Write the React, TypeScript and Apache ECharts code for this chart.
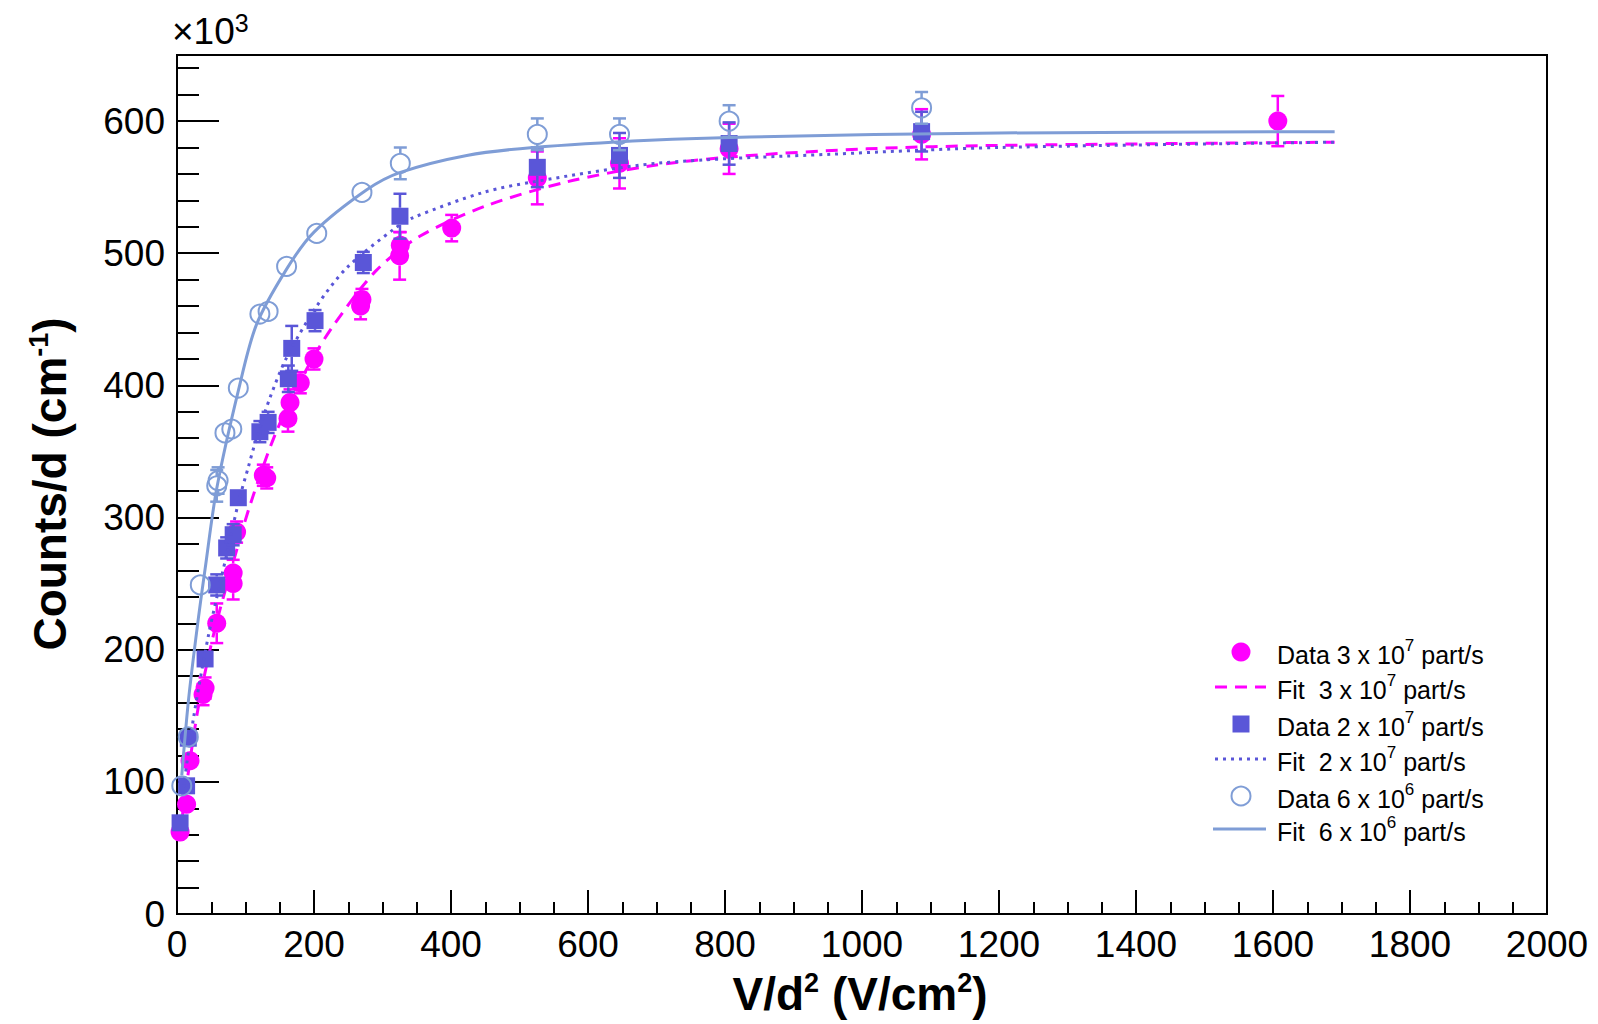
import React, { useEffect, useRef } from "react";
import * as echarts from "echarts";

// ---- Data (x in V/cm^2, y in 10^3 counts/cm, err in 10^3) ----
const data3e7: number[][] = [
  [4.5, 62, 4], [14, 83, 5], [19, 116, 6], [38, 166, 8], [41, 171, 8],
  [58, 220, 15], [82, 250, 12], [82, 258, 10], [87, 289, 8], [126, 332, 8],
  [131, 330, 8], [162, 375, 10], [165, 387, 10], [180, 402, 8], [200, 420, 8],
  [268, 460, 10], [270, 465, 8], [325, 498, 18], [326, 506, 10], [401, 519, 10],
  [526, 557, 20], [646, 568, 19], [806, 579, 19], [1087, 590, 19], [1607, 600, 19],
];
const data2e7: number[][] = [
  [4.5, 69, 4], [14, 97, 5], [16.5, 133, 6], [41, 193, 6], [58, 249, 8],
  [72.5, 277, 8], [82, 287, 8], [89.5, 315, 6], [121, 365, 8], [133, 372, 8],
  [162.5, 405, 10], [167.5, 428, 17], [201.5, 449, 8], [272, 493, 8], [325.5, 528, 17],
  [526, 565, 15], [646, 574, 17], [806, 583, 16], [1087, 592, 15],
];
const data6e8: number[][] = [
  [7, 97, 5], [16.5, 134, 6], [34, 249, 6], [58, 324, 12], [60, 328, 10],
  [70, 364, 5], [80, 367, 5], [89.5, 398, 5], [121, 454, 5], [133, 456, 5],
  [160, 490, 5], [204, 515, 5], [270, 546, 5], [326, 568, 12], [526, 590, 12],
  [646, 590, 12], [806, 600, 12], [1087, 610, 12],
];
const fit3e7: number[][] = [
  [8, 75], [21.5, 125], [34, 165], [55, 215], [82, 266], [107, 310], [145, 365],
  [189, 412], [228, 445], [291, 487], [355, 513], [452, 536], [569, 554], [690, 566],
  [812, 573], [1007, 579], [1200, 581.6], [1690, 584],
];
const fit2e7: number[][] = [
  [8, 90], [24, 148], [46, 211], [72.5, 272], [90, 312], [104, 338], [116, 360],
  [136, 391], [160, 421], [204, 460], [248, 489], [316, 518], [345, 527], [447, 546],
  [520, 554], [700, 568], [958, 575], [1200, 580], [1690, 584],
];
const fit6e8: number[][] = [
  [7, 105], [17, 163], [31, 223], [41, 261], [58, 322], [90, 397], [116, 446],
  [160, 488], [200, 516], [277, 548], [325, 561], [423, 574], [520, 580], [690, 585.5],
  [836, 588], [1200, 591], [1690, 592],
];
const legendLabels: string[][] = [
  ["Data 3 x 10", "7", " part/s"],
  ["Fit  3 x 10", "7", " part/s"],
  ["Data 2 x 10", "7", " part/s"],
  ["Fit  2 x 10", "7", " part/s"],
  ["Data 6 x 10", "6", " part/s"],
  ["Fit  6 x 10", "6", " part/s"],
];

const MAGENTA = "#ff00ff";
const VIOLET = "#5a56d8";
const LIGHTBLUE = "#7f9dd6";
const FONT = "Liberation Sans, Arial, Helvetica, sans-serif";

type Kind = "disc" | "square" | "ring";

function makeRenderer(kind: Kind, color: string) {
  return (_params: any, api: any) => {
    const x = api.value(0);
    const y = api.value(1);
    const e = api.value(2);
    const p = api.coord([x, y]);
    const pt = api.coord([x, y + e]);
    const pb = api.coord([x, y - e]);
    const r = kind === "square" ? 8.5 : 9.5;
    const cap = 6.5;
    const ls = { stroke: color, lineWidth: 2.5 };
    const children: any[] = [];
    if (p[1] - pt[1] > r) {
      children.push({ type: "line", shape: { x1: p[0], y1: pt[1], x2: p[0], y2: p[1] - r }, style: ls });
      children.push({ type: "line", shape: { x1: p[0] - cap, y1: pt[1], x2: p[0] + cap, y2: pt[1] }, style: ls });
    }
    if (pb[1] - p[1] > r) {
      children.push({ type: "line", shape: { x1: p[0], y1: p[1] + r, x2: p[0], y2: pb[1] }, style: ls });
      children.push({ type: "line", shape: { x1: p[0] - cap, y1: pb[1], x2: p[0] + cap, y2: pb[1] }, style: ls });
    }
    if (kind === "disc") {
      children.push({ type: "circle", shape: { cx: p[0], cy: p[1], r }, style: { fill: color } });
    } else if (kind === "square") {
      children.push({ type: "rect", shape: { x: p[0] - r, y: p[1] - r, width: 2 * r, height: 2 * r }, style: { fill: color } });
    } else {
      children.push({ type: "circle", shape: { cx: p[0], cy: p[1], r }, style: { fill: "none", stroke: color, lineWidth: 2 } });
    }
    return { type: "group", children };
  };
}

function legendGraphics(): any[] {
  const rowsY = [652, 687, 724, 759, 796, 829];
  const mx = 1241;
  const lx1 = 1215;
  const lx2 = 1266;
  const tx = 1277;
  const els: any[] = [];
  const kinds = ["disc", "dash", "square", "dot", "ring", "solid"];
  kinds.forEach((k, i) => {
    const y = rowsY[i];
    if (k === "disc") els.push({ type: "circle", shape: { cx: mx, cy: y, r: 9.5 }, style: { fill: MAGENTA } });
    if (k === "square") els.push({ type: "rect", shape: { x: mx - 8.5, y: y - 8.5, width: 17, height: 17 }, style: { fill: VIOLET } });
    if (k === "ring") els.push({ type: "circle", shape: { cx: mx, cy: y, r: 9.5 }, style: { fill: "none", stroke: LIGHTBLUE, lineWidth: 2 } });
    if (k === "dash") els.push({ type: "line", shape: { x1: lx1, y1: y, x2: lx2, y2: y }, style: { stroke: MAGENTA, lineWidth: 3, lineDash: [12, 8] } });
    if (k === "dot") els.push({ type: "line", shape: { x1: lx1, y1: y, x2: lx2, y2: y }, style: { stroke: VIOLET, lineWidth: 3, lineDash: [3, 5] } });
    if (k === "solid") els.push({ type: "line", shape: { x1: lx1 - 2, y1: y, x2: lx2, y2: y }, style: { stroke: LIGHTBLUE, lineWidth: 3 } });
    const [a, s, b] = legendLabels[i];
    els.push({
      type: "text",
      x: tx,
      y: y,
      style: {
        text: `{m|${a}}{s|${s}}{m|${b}}`,
        verticalAlign: "middle",
        align: "left",
        rich: {
          m: { fontSize: 25, fontFamily: FONT, fill: "#000", lineHeight: 30, verticalAlign: "bottom" },
          s: { fontSize: 17, fontFamily: FONT, fill: "#000", lineHeight: 17, verticalAlign: "top" },
        },
      },
    });
  });
  return els;
}

export default function App() {
  const ref = useRef<HTMLDivElement>(null);
  useEffect(() => {
    if (!ref.current) return;
    const chart = echarts.init(ref.current, undefined, { renderer: "svg" });
    const axisLabel = { fontSize: 37, color: "#000", fontFamily: FONT, margin: 12, formatter: (v: number) => String(v) };
    const tickStyle = { color: "#000", width: 2 };
    chart.setOption({
      animation: false,
      backgroundColor: "#fff",
      grid: { left: 177, right: 51, top: 55, bottom: 110, show: true, borderColor: "#000", borderWidth: 2, backgroundColor: "transparent" },
      xAxis: {
        type: "value", min: 0, max: 2000, interval: 200,
        axisLine: { show: true, lineStyle: { color: "#000", width: 2 } },
        axisTick: { show: true, inside: true, length: 24, lineStyle: tickStyle },
        minorTick: { show: true, splitNumber: 4, length: 12, lineStyle: tickStyle },
        splitLine: { show: false },
        axisLabel,
      },
      yAxis: [
        {
          type: "value", min: 0, max: 650, interval: 100, position: "left",
          axisLine: { show: true, lineStyle: { color: "#000", width: 2 } },
          axisTick: { show: true, inside: true, length: 42, lineStyle: tickStyle },
          splitLine: { show: false },
          axisLabel: { ...axisLabel, showMaxLabel: false },
        },
        {
          type: "value", min: 0, max: 650, interval: 20, position: "left",
          axisLine: { show: false },
          axisTick: { show: true, inside: true, length: 22, lineStyle: tickStyle },
          splitLine: { show: false },
          axisLabel: { show: false },
        },
      ],
      graphic: [
        {
          type: "text", x: 172, y: 50,
          style: {
            text: "{m|×10}{s|3}",
            verticalAlign: "bottom",
            rich: {
              m: { fontSize: 37, fontFamily: FONT, fill: "#000", lineHeight: 40, verticalAlign: "bottom" },
              s: { fontSize: 25, fontFamily: FONT, fill: "#000", lineHeight: 25, verticalAlign: "top" },
            },
          },
        },
        {
          type: "text", x: 860, y: 993,
          style: {
            text: "{m|V/d}{s|2}{m| (V/cm}{s|2}{m|)}",
            align: "center", verticalAlign: "middle",
            rich: {
              m: { fontSize: 46, fontWeight: "bold", fontFamily: FONT, fill: "#000", lineHeight: 48, verticalAlign: "bottom" },
              s: { fontSize: 27, fontWeight: "bold", fontFamily: FONT, fill: "#000", lineHeight: 27, verticalAlign: "top" },
            },
          },
        },
        {
          type: "text", x: 49, y: 484, rotation: Math.PI / 2,
          style: {
            text: "{m|Counts/d (cm}{s|-1}{m|)}",
            align: "center", verticalAlign: "middle",
            rich: {
              m: { fontSize: 46, fontWeight: "bold", fontFamily: FONT, fill: "#000", lineHeight: 48, verticalAlign: "bottom" },
              s: { fontSize: 27, fontWeight: "bold", fontFamily: FONT, fill: "#000", lineHeight: 27, verticalAlign: "top" },
            },
          },
        },
        ...legendGraphics(),
      ],
      series: [
        { type: "custom", name: "Data 3e7", renderItem: makeRenderer("disc", MAGENTA), data: data3e7, encode: { x: 0, y: 1 }, z: 2 },
        { type: "line", name: "Fit 3e7", data: fit3e7, symbol: "none", smooth: 0.3, z: 3, lineStyle: { color: MAGENTA, width: 3, type: [12, 8] } },
        { type: "custom", name: "Data 2e7", renderItem: makeRenderer("square", VIOLET), data: data2e7, encode: { x: 0, y: 1 }, z: 4 },
        { type: "line", name: "Fit 2e7", data: fit2e7, symbol: "none", smooth: 0.3, z: 5, lineStyle: { color: VIOLET, width: 3, type: [3, 5] } },
        { type: "custom", name: "Data 6e8", renderItem: makeRenderer("ring", LIGHTBLUE), data: data6e8, encode: { x: 0, y: 1 }, z: 6 },
        { type: "line", name: "Fit 6e8", data: fit6e8, symbol: "none", smooth: 0.3, z: 7, lineStyle: { color: LIGHTBLUE, width: 3 } },
      ],
    });
    return () => chart.dispose();
  }, []);
  return <div ref={ref} style={{ position: "absolute", left: 0, top: 0, width: "1598px", height: "1024px" }} />;
}
